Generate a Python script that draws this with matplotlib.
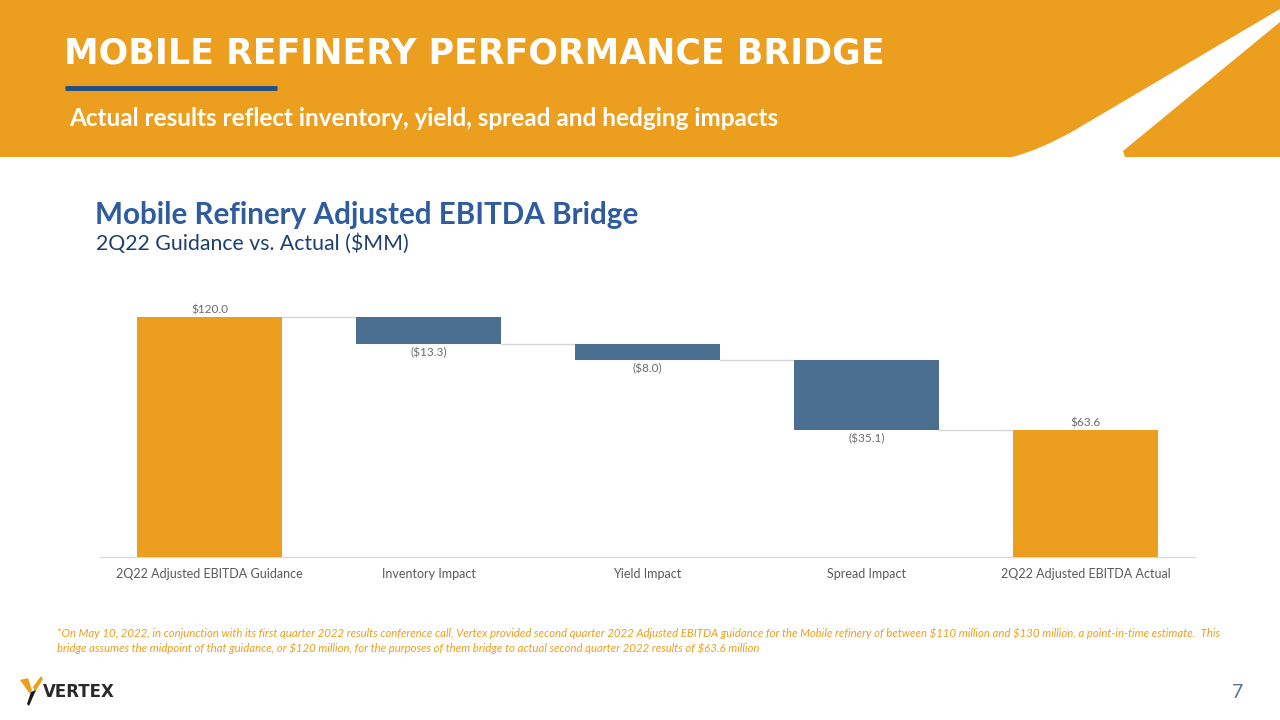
import matplotlib
matplotlib.use("Agg")
import matplotlib.pyplot as plt
from matplotlib.patches import Rectangle, Polygon, PathPatch
from matplotlib.path import Path

# ---- data ----
categories = ["2Q22 Adjusted EBITDA Guidance", "Inventory Impact", "Yield Impact",
              "Spread Impact", "2Q22 Adjusted EBITDA Actual"]
values = [120.0, -13.3, -8.0, -35.1, 63.6]
kinds = ["total", "delta", "delta", "delta", "total"]
labels = ["\\$120.0", "(\\$13.3)", "(\\$8.0)", "(\\$35.1)", "\\$63.6"]

ORANGE = "#EC9F1E"
BLUE_BAR = "#4A6F91"
TITLE_BLUE = "#2E5C9E"
DARK_BLUE = "#1F3E70"
GRAY_TXT = "#6B6B6B"

fig = plt.figure(figsize=(12.8, 7.2), dpi=100)

# ---- background / decoration axes in pixel coords ----
bg = fig.add_axes([0, 0, 1, 1], zorder=0)
bg.set_xlim(0, 1280)
bg.set_ylim(720, 0)
bg.axis("off")

bg.add_patch(Rectangle((0, 0), 1280, 157, color=ORANGE, lw=0))
# white diagonal stripe
verts = [(1280, 9), (1075, 130), (1040, 150), (1012, 157), (1125, 157),
         (1123, 151), (1280, 22), (1280, 9)]
codes = [Path.MOVETO, Path.LINETO, Path.CURVE3, Path.CURVE3, Path.LINETO,
         Path.LINETO, Path.LINETO, Path.CLOSEPOLY]
bg.add_patch(PathPatch(Path(verts, codes), facecolor="white", edgecolor="none"))

bg.text(64, 54, "MOBILE REFINERY PERFORMANCE BRIDGE", color="white",
        fontsize=25, fontweight="bold", family="DejaVu Sans", va="center", ha="left")
bg.plot([65, 277], [88, 88], color="#1F4E89", lw=3.5, solid_capstyle="butt")
bg.text(69, 118, "Actual results reflect inventory, yield, spread and hedging impacts",
        color="white", fontsize=17.5, fontweight="bold", family="Lato", va="center", ha="left")

bg.text(95, 215, "Mobile Refinery Adjusted EBITDA Bridge", color=TITLE_BLUE,
        fontsize=21.3, fontweight="bold", family="Lato", va="center", ha="left")
bg.text(96, 244, "2Q22 Guidance vs. Actual (\\$MM)", color=DARK_BLUE,
        fontsize=15.3, family="Lato", va="center", ha="left")

foot1 = ("*On May 10, 2022, in conjunction with its first quarter 2022 results conference call, Vertex provided second quarter 2022 "
         "Adjusted EBITDA guidance for the Mobile refinery of between \\$110 million and \\$130 million, a point-in-time estimate.  This")
foot2 = ("bridge assumes the midpoint of that guidance, or \\$120 million, for the purposes of them bridge to actual second quarter "
         "2022 results of \\$63.6 million")
bg.text(57, 633, foot1, color=ORANGE, fontsize=8.2, style="italic", family="Lato",
        va="center", ha="left")
bg.text(57, 648, foot2, color=ORANGE, fontsize=8.2, style="italic", family="Lato",
        va="center", ha="left")

# logo
bg.add_patch(Polygon([(20, 680), (28, 678), (32, 690), (30, 694)], closed=True,
                     facecolor=ORANGE, edgecolor="none"))
bg.add_patch(Polygon([(33, 687), (41, 676), (43, 679), (35, 692)], closed=True,
                     facecolor=ORANGE, edgecolor="none"))
bg.add_patch(Polygon([(27, 704), (31, 692), (36, 690), (29, 706)], closed=True,
                     facecolor="#1A1A1A", edgecolor="none"))
bg.text(43, 692, "VERTEX", color="#2A2A2A", fontsize=12, fontweight="bold",
        family="DejaVu Sans", va="center", ha="left")
bg.text(1238, 693, "7", color="#5A7090", fontsize=14, family="Lato",
        va="center", ha="center")

# ---- chart axes ----
ax = fig.add_axes([100 / 1280, (720 - 557) / 720, 1095 / 1280, 280 / 720], zorder=2)
ax.patch.set_alpha(0)
ax.set_xlim(-0.5, 4.5)
ax.set_ylim(0, 140)

width = 0.665
running = 0.0
bottoms, heights, colors, ends = [], [], [], []
for v, k in zip(values, kinds):
    if k == "total":
        bottoms.append(0)
        heights.append(v)
        colors.append(ORANGE)
        running = v
    else:
        new = running + v
        bottoms.append(min(running, new))
        heights.append(abs(v))
        colors.append(BLUE_BAR)
        running = new
    ends.append(running)

xs = list(range(len(categories)))
ax.bar(xs, heights, bottom=bottoms, width=width, color=colors, zorder=3)

# connectors
for i in range(len(xs) - 1):
    ax.plot([xs[i] + width / 2, xs[i + 1] - width / 2], [ends[i], ends[i]],
            color="#D6D6D6", lw=1.0, zorder=2)

# data labels
for i, (v, k) in enumerate(zip(values, kinds)):
    if k == "total":
        ax.annotate(labels[i], (xs[i], bottoms[i] + heights[i]), xytext=(0, 1),
                    textcoords="offset points", ha="center", va="bottom",
                    fontsize=8.5, color=GRAY_TXT, family="Lato")
    else:
        ax.annotate(labels[i], (xs[i], bottoms[i]), xytext=(0, -2.5),
                    textcoords="offset points", ha="center", va="top",
                    fontsize=8.5, color=GRAY_TXT, family="Lato")

ax.set_xticks(xs)
ax.set_xticklabels(categories, fontsize=9, color="#595959", family="Lato")
ax.tick_params(axis="x", length=0, pad=8)
ax.set_yticks([])
for s in ["top", "right", "left"]:
    ax.spines[s].set_visible(False)
ax.spines["bottom"].set_color("#D9D9D9")
ax.spines["bottom"].set_linewidth(1.0)

fig.savefig("out.png", dpi=100)
